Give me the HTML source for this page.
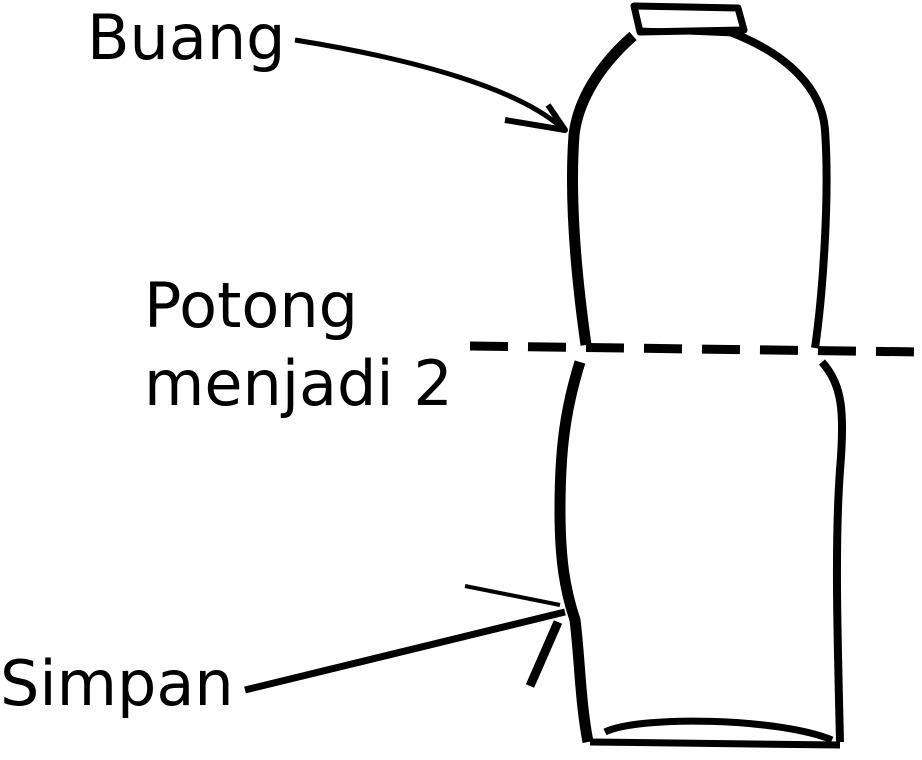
<!DOCTYPE html>
<html><head><meta charset="utf-8"><style>
html,body{margin:0;padding:0;background:#fff;}
svg{display:block;}
text{font-family:"DejaVu Sans","Liberation Sans",sans-serif;fill:#000;}
</style></head><body>
<svg width="922" height="760" viewBox="0 0 922 760">
<g fill="none" stroke="#000" stroke-linecap="butt" stroke-linejoin="round">
  <g stroke-width="7">
    <path d="M634,6 L738,8 L744,30 L640,32 Z"/>
    <path d="M640,30 L735,34" stroke-width="5"/>
  </g>
  <g stroke-width="11">
    <path d="M633,36 C600,65 578,100 574,135 C570,190 574,260 586,345"/>
    <path d="M730,32 C790,55 822,90 825,130 C830,200 822,300 815,348" stroke-width="8"/>
  </g>
  <g stroke-width="11">
    <path d="M580,362 C565,410 560,450 560,510 C560,560 565,590 575,620 C580,660 580,700 588,742"/>
    <path d="M822,362 C842,385 845,410 840,470 C835,540 837,620 840,742" stroke-width="8"/>
    <path d="M590,742 L840,745" stroke-width="7"/>
    <path d="M605,732 C640,715 780,718 832,740" stroke-width="7"/>
  </g>
  <path d="M470,346 L922,352" stroke-width="9" stroke-dasharray="38,20"/>
  <g stroke-width="5">
    <path d="M295,40 C420,60 520,90 562,128"/>
    <path d="M548,105 L565,130 L505,120" stroke-width="6"/>
  </g>
  <g stroke-width="7">
    <path d="M245,690 L565,612"/>
    <path d="M465,586 L560,605" stroke-width="4"/>
    <path d="M530,686 L558,622" stroke-width="9"/>
  </g>
</g>
<text x="87" y="59" font-size="62">Buang</text>
<text x="144" y="327" font-size="62">Potong</text>
<text x="144" y="405" font-size="62">menjadi 2</text>
<text x="0" y="705" font-size="62">Simpan</text>
</svg>
</body></html>
